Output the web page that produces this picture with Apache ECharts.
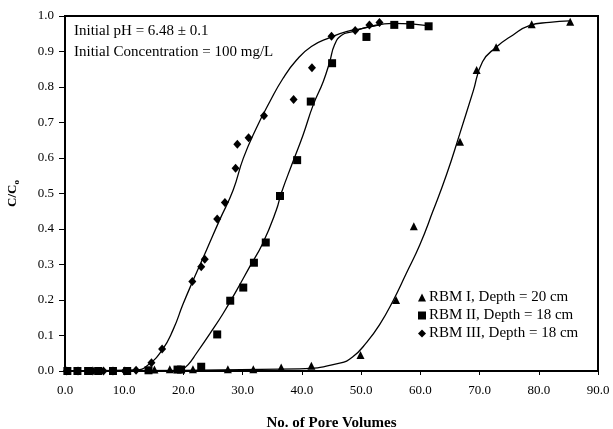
<!DOCTYPE html>
<html>
<head>
<meta charset="utf-8">
<script src="https://cdn.jsdelivr.net/npm/echarts@6/dist/echarts.min.js"></script>
<style>
  html, body { margin: 0; padding: 0; background: #fff; }
  #chart { width: 613px; height: 429px; }
</style>
</head>
<body>
<div id="chart"></div>
<script>
// Breakthrough data: relative concentration C/Co against number of pore volumes
var seriesNames = ['RBM I, Depth = 20 cm', 'RBM II, Depth = 18 cm', 'RBM III, Depth = 18 cm'];

// Measured points
var rbm1X = [15.1, 17.7, 21.6, 27.5, 31.8, 36.5, 41.6, 49.9, 55.9, 58.9, 66.7, 69.5, 72.8, 78.8, 85.3];
var rbm1Y = [0.004, 0.005, 0.005, 0.005, 0.005, 0.010, 0.015, 0.045, 0.200, 0.408, 0.646, 0.848, 0.912, 0.977, 0.984];

var rbm2X = [0.4, 2.1, 3.9, 5.6, 8.1, 10.5, 14.1, 19.0, 19.6, 23.0, 25.7, 27.9, 30.1, 31.9, 33.9, 36.3, 39.2, 41.5, 45.1, 50.9, 55.6, 58.3, 61.4];
var rbm2Y = [0, 0, 0, 0, 0, 0, 0.002, 0.004, 0.004, 0.012, 0.103, 0.198, 0.235, 0.305, 0.362, 0.493, 0.594, 0.759, 0.867, 0.941, 0.975, 0.975, 0.971];

var rbm3X = [0.3, 2.2, 4.7, 6.5, 8.1, 10.1, 12.0, 14.6, 16.4, 21.5, 23.0, 23.6, 25.7, 27.0, 28.8, 29.1, 31.0, 33.6, 38.6, 41.7, 45.0, 49.0, 51.4, 53.1];
var rbm3Y = [0, 0, 0, 0, 0, 0, 0.002, 0.023, 0.062, 0.252, 0.294, 0.315, 0.428, 0.475, 0.571, 0.639, 0.657, 0.719, 0.765, 0.854, 0.943, 0.959, 0.975, 0.982];

// Fitted breakthrough curves
var fit1X = [0, 39.6, 46.4, 48.6, 50.9, 53.1, 55.4, 57.6, 59.9, 62.1, 64.4, 66.6, 68.9, 70.5, 72.8, 75.6, 78.4, 81.8, 85.2];
var fit1Y = [0, 0.006, 0.022, 0.040, 0.080, 0.130, 0.198, 0.274, 0.355, 0.449, 0.552, 0.665, 0.787, 0.871, 0.912, 0.946, 0.973, 0.982, 0.986];

var fit2X = [0, 18.8, 19.8, 20.8, 22.2, 24.5, 26.7, 29.0, 31.2, 33.4, 35.7, 36.5, 38.5, 40.2, 41.9, 43.6, 44.7, 45.5, 46.7, 48.6, 51.4, 55.4, 61.6];
var fit2Y = [0, 0, 0.005, 0.018, 0.050, 0.106, 0.162, 0.228, 0.294, 0.360, 0.454, 0.500, 0.590, 0.665, 0.749, 0.815, 0.871, 0.918, 0.946, 0.956, 0.970, 0.979, 0.972];

var fit3X = [0, 12.1, 13.8, 16.4, 18.3, 19.9, 21.6, 23.9, 26.1, 28.4, 30.1, 32.3, 34.6, 36.8, 39.1, 41.6, 44.7, 47.5, 50.3, 53.1];
var fit3Y = [0, 0.003, 0.014, 0.059, 0.118, 0.187, 0.254, 0.341, 0.425, 0.510, 0.599, 0.684, 0.759, 0.824, 0.876, 0.914, 0.939, 0.956, 0.965, 0.975];

var notes = ['Initial pH = 6.48 \u00b1 0.1', 'Initial Concentration = 100 mg/L'];

function pairs(xs, ys) {
  return xs.map(function (x, i) { return [x, ys[i]]; });
}

var FONT = '"Liberation Serif", "Times New Roman", serif';

function scatter(name, xs, ys, symbol, size) {
  return {
    name: name, type: 'scatter', data: pairs(xs, ys),
    symbol: symbol, symbolSize: size,
    itemStyle: { color: '#000', opacity: 1 }, z: 3, silent: true
  };
}
function fit(xs, ys) {
  return {
    type: 'line', data: pairs(xs, ys), showSymbol: false, symbol: 'none',
    smooth: 0.5,
    lineStyle: { color: '#000', width: 1.3 }, z: 2, silent: true
  };
}

var chart = echarts.init(document.getElementById('chart'));
chart.setOption({
  animation: false,
  backgroundColor: '#fff',
  textStyle: { fontFamily: FONT, color: '#000' },
  grid: { left: 65, right: 15, top: 16, bottom: 58, show: true, borderColor: '#000', borderWidth: 2,
    containLabel: false, outerBoundsMode: 'none' },
  xAxis: {
    type: 'value', min: 0, max: 90, interval: 10,
    name: 'No. of Pore Volumes', nameLocation: 'middle', nameGap: 45,
    nameTextStyle: { fontFamily: FONT, fontWeight: 'bold', fontSize: 15, color: '#000' },
    axisLine: { lineStyle: { color: '#000', width: 2 } },
    axisTick: { inside: false, length: 4, lineStyle: { color: '#000', width: 1 } },
    axisLabel: { margin: 13, fontFamily: FONT, fontSize: 13, color: '#000',
      formatter: function (v) { return v.toFixed(1); } },
    splitLine: { show: false }
  },
  yAxis: {
    type: 'value', min: 0, max: 1, interval: 0.1,
    name: '{n|C/C}{s|o}', nameLocation: 'middle', nameGap: 44, nameRotate: 90,
    nameTextStyle: {
      rich: {
        n: { fontFamily: FONT, fontWeight: 'bold', fontSize: 13, color: '#000', lineHeight: 16 },
        s: { fontFamily: FONT, fontWeight: 'bold', fontSize: 9, color: '#000', lineHeight: 9, verticalAlign: 'bottom' }
      }
    },
    axisLine: { show: true, lineStyle: { color: '#000', width: 2 } },
    axisTick: { show: true, inside: false, length: 6, lineStyle: { color: '#000', width: 1 } },
    axisLabel: { margin: 11, fontFamily: FONT, fontSize: 13, color: '#000',
      formatter: function (v) { return v.toFixed(1); } },
    splitLine: { show: false }
  },
  legend: {
    orient: 'vertical', left: 413, top: 285, itemGap: 3,
    itemWidth: 8, itemHeight: 8, itemStyle: { color: '#000', opacity: 1 },
    textStyle: { fontFamily: FONT, fontSize: 15, color: '#000', padding: [0, 0, 0, -2] },
    data: [
      { name: seriesNames[0], icon: 'triangle' },
      { name: seriesNames[1], icon: 'rect' },
      { name: seriesNames[2], icon: 'diamond' }
    ],
    selectedMode: false
  },
  graphic: [
    { type: 'text', left: 74, top: 24, style: { text: notes[0], font: '15px ' + FONT, fill: '#000' } },
    { type: 'text', left: 74, top: 45, style: { text: notes[1], font: '15px ' + FONT, fill: '#000' } }
  ],
  series: [
    fit(fit1X, fit1Y),
    fit(fit2X, fit2Y),
    fit(fit3X, fit3Y),
    scatter(seriesNames[0], rbm1X, rbm1Y, 'triangle', 8),
    scatter(seriesNames[1], rbm2X, rbm2Y, 'rect', 8),
    scatter(seriesNames[2], rbm3X, rbm3Y, 'diamond', [8, 9])
  ]
});
</script>
</body>
</html>
